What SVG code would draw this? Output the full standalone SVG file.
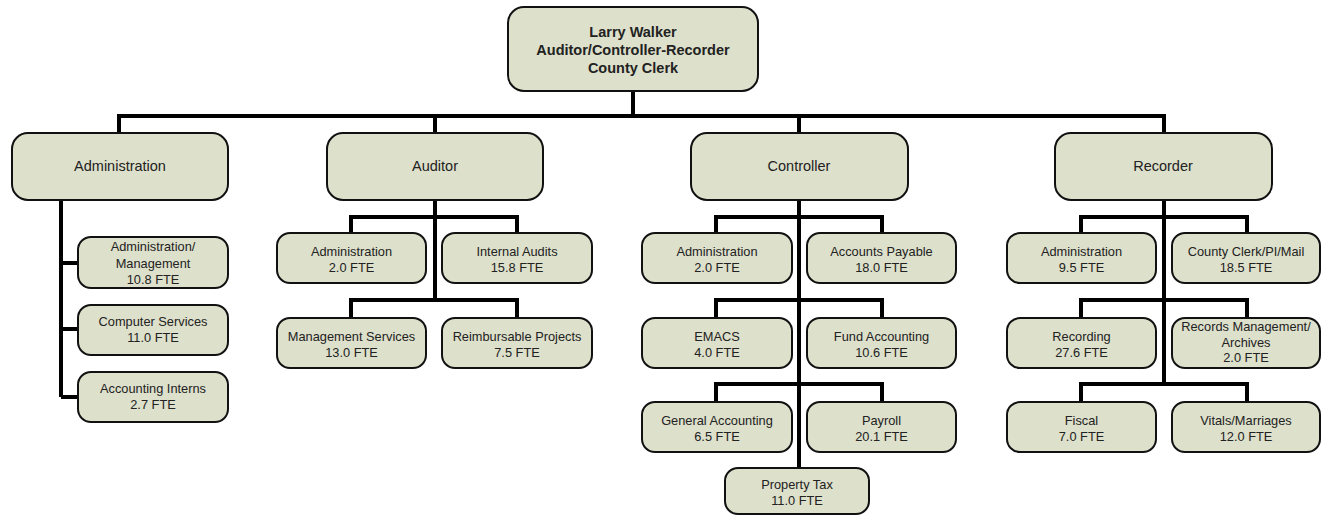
<svg xmlns="http://www.w3.org/2000/svg" width="1322" height="516" viewBox="0 0 1322 516">
<style>
.box{fill:#dde0cb;stroke:#111;stroke-width:2}
.t{font-family:"Liberation Sans",Arial,sans-serif;font-size:12.8px;fill:#222;text-anchor:middle}
.h{font-size:14.5px}
.b{font-weight:bold}
.c{fill:none;stroke:#000;stroke-width:4;stroke-linejoin:miter}
</style>
<rect width="1322" height="516" fill="#fff"/>
<g id="connectors">
<path class="c" d="M633 91V116M119 133V116H1164V133M435 116V133M799 116V133"/>
<path class="c" d="M61 200V397M61 263H78M61 329H78M61 397H78"/>
<path class="c" d="M435 200V300M351 233V217H517V233M351 318V300H517V318"/>
<path class="c" d="M799 200V468M716 233V217H882V233M716 318V300H882V318M716 402V384H882V402"/>
<path class="c" d="M1164 200V384M1081 233V217H1247V233M1081 318V300H1247V318M1081 402V384H1247V402"/>
</g>
<g id="top"><rect class="box" x="508" y="7" width="250" height="84" rx="16"/>
<text class="t h b" x="633" y="37">Larry Walker</text>
<text class="t h b" x="633" y="55">Auditor/Controller-Recorder</text>
<text class="t h b" x="633" y="73">County Clerk</text></g>
<g id="administration"><rect class="box" x="12" y="133" width="216" height="67" rx="16"/><text class="t h" x="120" y="171">Administration</text></g>
<g id="auditor"><rect class="box" x="327" y="133" width="216" height="67" rx="16"/><text class="t h" x="435" y="171">Auditor</text></g>
<g id="controller"><rect class="box" x="691" y="133" width="217" height="67" rx="16"/><text class="t h" x="799" y="171">Controller</text></g>
<g id="recorder"><rect class="box" x="1055" y="133" width="217" height="67" rx="16"/><text class="t h" x="1163" y="171">Recorder</text></g>

<g id="adm-mgmt"><rect class="box" x="78" y="237" width="150" height="51" rx="13"/><text class="t" x="153" y="251">Administration/</text><text class="t" x="153" y="267.5">Management</text><text class="t" x="153" y="283.5">10.8 FTE</text></g>
<g id="adm-comp"><rect class="box" x="78" y="305" width="150" height="50" rx="13"/><text class="t" x="153" y="326">Computer Services</text><text class="t" x="153" y="342">11.0 FTE</text></g>
<g id="adm-intern"><rect class="box" x="78" y="372" width="150" height="50" rx="13"/><text class="t" x="153" y="393">Accounting Interns</text><text class="t" x="153" y="409">2.7 FTE</text></g>

<g id="aud-adm"><rect class="box" x="277" y="233" width="149" height="50" rx="13"/><text class="t" x="351.5" y="255.5">Administration</text><text class="t" x="351.5" y="271.5">2.0 FTE</text></g>
<g id="aud-int"><rect class="box" x="442" y="233" width="150" height="50" rx="13"/><text class="t" x="517" y="255.5">Internal Audits</text><text class="t" x="517" y="271.5">15.8 FTE</text></g>
<g id="aud-mgmt"><rect class="box" x="277" y="318" width="149" height="50" rx="13"/><text class="t" x="351.5" y="340.5">Management Services</text><text class="t" x="351.5" y="356.5">13.0 FTE</text></g>
<g id="aud-reimb"><rect class="box" x="442" y="318" width="150" height="50" rx="13"/><text class="t" x="517" y="340.5">Reimbursable Projects</text><text class="t" x="517" y="356.5">7.5 FTE</text></g>

<g id="con-adm"><rect class="box" x="642" y="233" width="150" height="50" rx="13"/><text class="t" x="717" y="255.5">Administration</text><text class="t" x="717" y="271.5">2.0 FTE</text></g>
<g id="con-ap"><rect class="box" x="807" y="233" width="149" height="50" rx="13"/><text class="t" x="881.5" y="255.5">Accounts Payable</text><text class="t" x="881.5" y="271.5">18.0 FTE</text></g>
<g id="con-emacs"><rect class="box" x="642" y="318" width="150" height="50" rx="13"/><text class="t" x="717" y="340.5">EMACS</text><text class="t" x="717" y="356.5">4.0 FTE</text></g>
<g id="con-fund"><rect class="box" x="807" y="318" width="149" height="50" rx="13"/><text class="t" x="881.5" y="340.5">Fund Accounting</text><text class="t" x="881.5" y="356.5">10.6 FTE</text></g>
<g id="con-gen"><rect class="box" x="642" y="402" width="150" height="50" rx="13"/><text class="t" x="717" y="424.5">General Accounting</text><text class="t" x="717" y="440.5">6.5 FTE</text></g>
<g id="con-pay"><rect class="box" x="807" y="402" width="149" height="50" rx="13"/><text class="t" x="881.5" y="424.5">Payroll</text><text class="t" x="881.5" y="440.5">20.1 FTE</text></g>
<g id="con-prop"><rect class="box" x="725" y="468" width="144" height="46" rx="13"/><text class="t" x="797" y="489">Property Tax</text><text class="t" x="797" y="505">11.0 FTE</text></g>

<g id="rec-adm"><rect class="box" x="1007" y="233" width="149" height="50" rx="13"/><text class="t" x="1081.5" y="255.5">Administration</text><text class="t" x="1081.5" y="271.5">9.5 FTE</text></g>
<g id="rec-clerk"><rect class="box" x="1172" y="233" width="148" height="50" rx="13"/><text class="t" x="1246" y="255.5">County Clerk/PI/Mail</text><text class="t" x="1246" y="271.5">18.5 FTE</text></g>
<g id="rec-rec"><rect class="box" x="1007" y="318" width="149" height="50" rx="13"/><text class="t" x="1081.5" y="340.5">Recording</text><text class="t" x="1081.5" y="356.5">27.6 FTE</text></g>
<g id="rec-arch"><rect class="box" x="1172" y="318" width="148" height="50" rx="13"/><text class="t" x="1246" y="331">Records Management/</text><text class="t" x="1246" y="347">Archives</text><text class="t" x="1246" y="362">2.0 FTE</text></g>
<g id="rec-fiscal"><rect class="box" x="1007" y="402" width="149" height="50" rx="13"/><text class="t" x="1081.5" y="424.5">Fiscal</text><text class="t" x="1081.5" y="440.5">7.0 FTE</text></g>
<g id="rec-vital"><rect class="box" x="1172" y="402" width="148" height="50" rx="13"/><text class="t" x="1246" y="424.5">Vitals/Marriages</text><text class="t" x="1246" y="440.5">12.0 FTE</text></g>
</svg>
